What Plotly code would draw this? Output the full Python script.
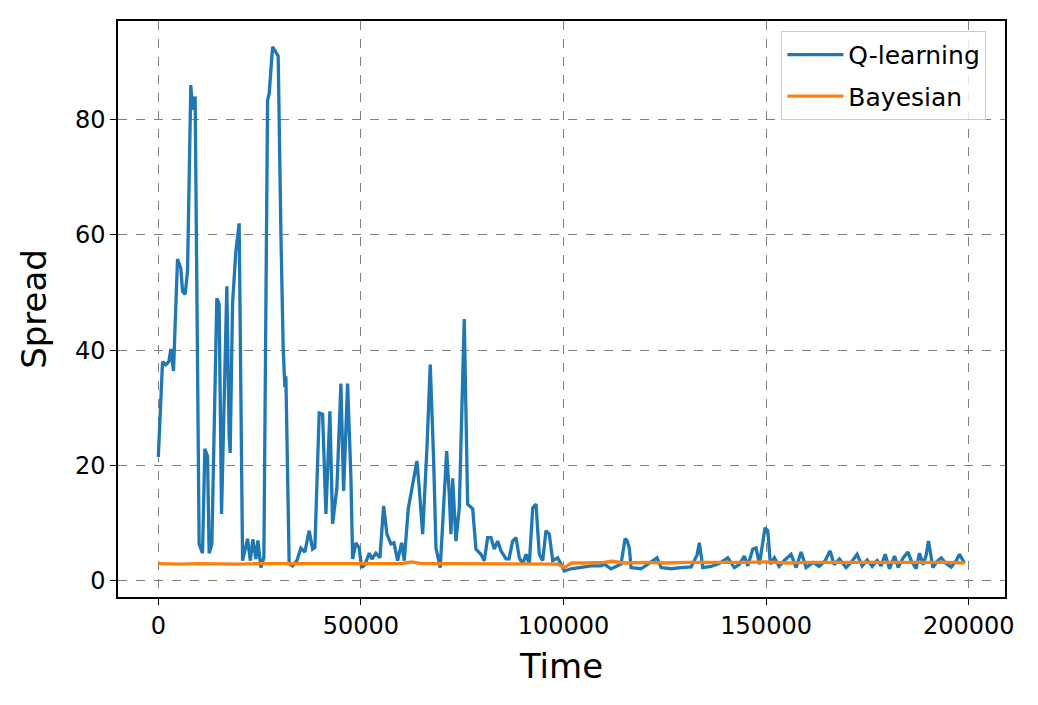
import plotly.graph_objects as go

# Q-learning spread
q_time = [
    0, 1040, 1850, 2590, 3090, 3750, 4740, 5560, 5980, 6620, 7210, 8020, 8440, 9090,
    10070, 10910, 11480, 12150, 12540, 13210, 14440, 15010, 15600, 16910, 17480, 17730,
    18320, 19130, 19950, 20790, 22020, 22710, 23330, 24070, 24570, 25310, 26050, 26960,
    27360, 28200, 29010, 29580, 30250, 30810, 31230, 31480, 32290, 33130, 34200, 35180,
    36170, 37230, 38070, 38640, 39700, 40540, 41360, 42340, 43010, 44070, 45060, 45730,
    46710, 47530, 47950, 48760, 49580, 50170, 50990, 52050, 52710, 53700, 54690, 55600,
    56420, 57400, 58150, 59060, 60050, 60690, 61680, 62340, 63160, 63820, 64390, 65230,
    66290, 67110, 67950, 68520, 69580, 70560, 71160, 71800, 72220, 72640, 73450, 74270,
    74940, 75500, 76340, 77580, 78390, 79620, 80440, 81280, 82090, 82910, 83750, 84560,
    85800, 86540, 87450, 88270, 89080, 89920, 90740, 91550, 92390, 93210, 94020, 94860,
    95670, 96490, 97330, 98560, 99380, 100190, 101850, 104320, 106790, 109250, 110070,
    111720, 114190, 115180, 115670, 116240, 116660, 119130, 121110, 123080, 124070,
    126540, 129010, 131480, 132960, 133520, 134360, 136410, 138390, 140530, 142160,
    143320, 144630, 145470, 146710, 147520, 148340, 149740, 150410, 151050, 152040,
    153200, 154430, 156160, 157400, 158630, 159870, 161600, 163080, 164560, 165800,
    166790, 168090, 169740, 170980, 172460, 173700, 174930, 176170, 177400, 178390,
    179380, 180440, 181680, 182590, 183830, 184990, 185800, 187030, 187840, 188760,
    189500, 190070, 191150, 192210, 193200, 194430, 195670, 196900, 197720, 198950,
]
q_spread = [
    21.5, 38.0, 37.5, 38.0, 40.2, 36.4, 55.8, 54.2, 50.2, 49.7, 53.7, 86.0, 81.7, 84.0,
    6.4, 4.8, 22.9, 21.6, 4.8, 6.4, 49.0, 48.0, 11.6, 51.1, 25.0, 22.2,
    48.1, 57.1, 62.0, 3.5, 7.3, 3.5, 7.2, 3.8, 7.0, 2.3, 4.0, 83.3,
    84.5, 92.6, 91.7, 91.0, 60.4, 40.5, 33.6, 35.5, 3.0, 2.6, 3.5, 5.7,
    5.0, 8.7, 5.5, 5.8, 29.1, 28.9, 11.6, 29.4, 9.9, 16.1, 34.2, 15.6,
    34.2, 18.0, 3.8, 6.6, 5.7, 2.3, 2.8, 4.8, 3.8, 4.8, 4.0, 13.0,
    8.1, 6.4, 6.6, 3.5, 6.6, 3.5, 12.5, 15.0, 17.8, 20.8, 16.1, 8.1,
    23.0, 37.5, 20.8, 5.7, 2.3, 15.0, 22.5, 15.0, 8.1, 17.8, 6.9, 12.6,
    31.0, 45.4, 13.3, 12.5, 5.5, 4.6, 3.5, 7.5, 7.5, 5.5, 6.9, 5.2,
    3.8, 3.8, 6.9, 7.5, 4.0, 2.9, 4.6, 2.9, 12.6, 13.3, 4.6, 3.5,
    8.7, 8.1, 3.5, 4.0, 2.9, 1.7, 2.1, 2.3, 2.6, 2.6, 2.9,
    2.1, 2.9, 7.3, 7.0, 5.7, 2.3, 2.1, 3.0, 4.0, 2.3,
    2.1, 2.3, 2.4, 4.5, 6.6, 2.3, 2.5, 3.0, 4.0, 2.3,
    2.8, 4.3, 2.6, 5.5, 5.7, 2.9, 9.2, 8.7, 2.9, 4.0,
    2.5, 3.5, 4.6, 2.3, 5.0, 2.3, 3.2, 2.5, 3.5, 5.2,
    2.8, 3.8, 2.3, 3.2, 4.6, 2.6, 3.6, 2.5, 3.5, 2.6,
    4.6, 2.1, 4.3, 2.3, 4.0, 5.0, 3.5, 2.1, 4.8, 2.8,
    4.5, 6.9, 2.3, 3.4, 4.0, 3.0, 2.4, 3.5, 4.6, 3.1,
]

# Bayesian spread, nearly flat around 3
bayes_time = [
    0, 5000, 10000, 15000, 20000, 25000, 30000, 35000, 40000, 45000,
    50000, 55000, 60000, 62500, 65000, 70000, 75000, 80000, 85000, 90000,
    95000, 98500, 100200, 102000, 105000, 110000, 112000, 115000, 120000, 125000,
    130000, 135000, 140000, 145000, 150000, 155000, 160000, 165000, 170000, 175000,
    180000, 185000, 190000, 195000, 199000,
]
bayes_spread = [
    3.0, 2.9, 3.0, 2.9, 2.9, 3.0, 3.0, 2.9, 3.0, 2.9,
    2.9, 3.0, 3.0, 3.3, 3.0, 3.0, 3.0, 2.9, 2.9, 3.0,
    3.0, 2.9, 2.3, 3.1, 3.1, 3.2, 3.4, 3.1, 3.2, 3.1,
    3.2, 3.2, 3.1, 3.2, 3.3, 3.1, 3.2, 3.2, 3.3, 3.2,
    3.2, 3.3, 3.2, 3.2, 3.1,
]

x_ticks = [0, 50000, 100000, 150000, 200000]
y_ticks = [0, 20, 40, 60, 80]

fig = go.Figure()
fig.add_trace(go.Scatter(
    x=q_time, y=q_spread, mode="lines", name="Q-learning",
    line=dict(color="#1f77b4", width=3.3), legendgroup="q",
))
fig.add_trace(go.Scatter(
    x=bayes_time, y=bayes_spread, mode="lines", name="Bayesian",
    line=dict(color="#ff7f0e", width=3.3), legendgroup="b",
))

axis_common = dict(
    showgrid=True, gridcolor="gray", griddash="dash", gridwidth=1,
    zeroline=False, showline=True, linecolor="black", linewidth=1.5, mirror=True,
    ticks="outside", ticklen=6, tickwidth=1.2, tickcolor="black",
    tickfont=dict(family="DejaVu Sans", size=24, color="black"),
)

# the page puts the figure ~7px in from the top-left corner
fig.update_layout(
    width=1038, height=705,
    margin=dict(l=110, r=41, t=11, b=116),
    plot_bgcolor="white", paper_bgcolor="white",
    font=dict(family="DejaVu Sans", color="black"),
    xaxis=dict(
        range=[-9950, 208950], tickvals=x_ticks, ticktext=[str(v) for v in x_ticks],
        title=dict(text="Time", font=dict(size=34), standoff=16),
        **axis_common,
    ),
    yaxis=dict(
        range=[-2.8, 97.1], tickvals=y_ticks,
        title=dict(text="Spread", font=dict(size=34), standoff=18),
        **axis_common,
    ),
    legend=dict(
        x=0.979, y=0.983, xanchor="right", yanchor="top",
        bgcolor="rgba(255,255,255,0.8)", bordercolor="#cccccc", borderwidth=1,
        font=dict(family="DejaVu Sans", size=25, color="black"),
        traceorder="grouped", tracegroupgap=6, itemwidth=56,
    ),
)

fig.write_html("out.html")
